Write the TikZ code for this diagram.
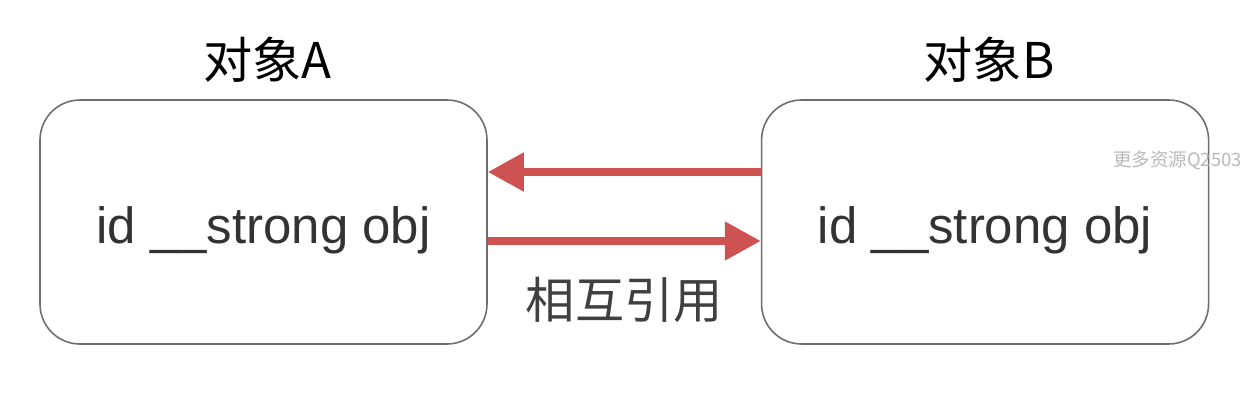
\documentclass[tikz,border=0pt]{standalone}
\usepackage{fontspec}
\setmainfont{Liberation Sans}
\newfontfamily\cjk{Noto Sans CJK SC}
\usetikzlibrary{arrows.meta, positioning, calc}

\definecolor{linkred}{RGB}{206,82,82}
\definecolor{boxgray}{RGB}{110,110,110}
\definecolor{markgray}{RGB}{185,185,185}

\begin{document}
\begin{tikzpicture}[
    obj/.style={rectangle, draw=boxgray, line width=0.9pt, rounded corners=0.8cm, fill=white, minimum width=8.94cm, minimum height=4.88cm, align=center, text height=30pt, text depth=6pt, text=black!80, font=\fontsize{29}{34}\selectfont},
    title/.style={font=\cjk\fontsize{28}{32}\selectfont},
    link/.style={-{Triangle[length=0.72cm, width=0.74cm]}, line width=0.16cm, draw=linkred},
    label/.style={font=\cjk\fontsize{28}{32}\selectfont, text=black!75}
]
\useasboundingbox[fill=white] (0,0) rectangle (24.96,8.08);

% The two objects
\node[obj] (boxA) at (5.27,3.64) {id \_\_strong obj};
\node[obj] (boxB) [right=5.46cm of boxA] {id \_\_strong obj};

% Titles
\node[title] (titleA) at ($(boxA.north)+(0.08,0.8)$) {对象A};
\node[title] (titleB) at ($(boxB.north)+(0.08,0.8)$) {对象B};

% References
\draw[link] ([yshift=1cm]boxB.west) -- ([yshift=1cm]boxA.east);
\draw[link] ([yshift=-0.38cm]boxA.east) -- ([yshift=-0.38cm]boxB.west);

\node[label] (mutual) at ($(boxA.east)!0.5!(boxB.west)+(0,-1.56)$) {相互引用};

% Watermark
\node[anchor=east, font=\cjk\fontsize{10.5}{12}\selectfont, text=markgray] (mark) at (24.96,4.88) {更多资源Q2503};

\end{tikzpicture}
\end{document}
